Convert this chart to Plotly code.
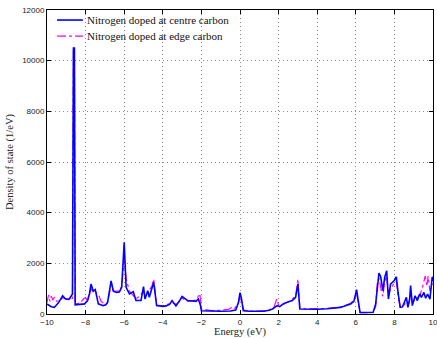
import plotly.graph_objects as go

centre_E = [-10.0, -9.8, -9.62, -9.4, -9.19, -9.05, -8.85, -8.68, -8.63, -8.58, -8.54, -8.3, -8.05, -7.9, -7.8,
            -7.72, -7.6, -7.5, -7.34, -7.1, -6.95, -6.86, -6.68, -6.56, -6.4, -6.25, -6.13, -6.0, -5.9, -5.73,
            -5.53, -5.39, -5.13, -5.0, -4.92, -4.78, -4.7, -4.56, -4.47, -4.32, -4.0, -3.83, -3.65, -3.52, -3.32,
            -3.15, -3.0, -2.71, -2.28, -2.16, -2.05, -2.0, -1.5, -1.0, -0.5, -0.22, -0.08, 0.0, 0.08, 0.17,
            0.5, 1.0, 1.24, 1.5, 1.68, 1.93, 2.06, 2.28, 2.5, 2.71, 2.88, 3.0, 3.1, 3.5, 4.0,
            4.52, 5.2, 5.73, 5.9, 6.04, 6.15, 6.22, 6.5, 6.9, 7.03, 7.1, 7.2, 7.29, 7.4, 7.5,
            7.6, 7.69, 7.8, 7.98, 8.1, 8.19, 8.3, 8.42, 8.53, 8.62, 8.7, 8.79, 8.84, 8.93, 9.07,
            9.19, 9.31, 9.4, 9.53, 9.62, 9.72, 9.84, 9.96, 10.0]
centre_DOS = [395, 300, 260, 450, 720, 600, 590, 790, 10500, 10500, 360, 380, 400, 530, 800,
              1180, 900, 960, 400, 330, 360, 460, 1310, 900, 850, 870, 1050, 2830, 1050, 790,
              880, 530, 530, 1080, 590, 920, 660, 1030, 1250, 330, 300, 320, 380, 530, 320,
              500, 690, 530, 500, 590, 350, 130, 110, 110, 120, 160, 450, 840, 600, 130,
              110, 105, 110, 150, 200, 330, 290, 420, 470, 530, 660, 1180, 200, 190, 190,
              210, 260, 395, 500, 960, 300, 65, 60, 70, 400, 1000, 1620, 1470, 920, 1450,
              1710, 590, 1180, 1310, 1470, 850, 260, 280, 460, 660, 260, 590, 1120, 330, 720,
              530, 790, 660, 850, 620, 790, 590, 1470, 1300]

edge_E = [-10.0, -9.92, -9.85, -9.78, -9.7, -9.62, -9.5, -9.3, -9.19, -9.0, -8.8, -8.68, -8.63, -8.58, -8.54,
          -8.3, -8.1, -8.0, -7.9, -7.72, -7.6, -7.5, -7.3, -7.2, -7.0, -6.86, -6.68, -6.56, -6.25, -6.13,
          -6.0, -5.9, -5.73, -5.53, -5.39, -5.2, -5.0, -4.92, -4.78, -4.56, -4.47, -4.32, -4.0, -3.52, -3.3,
          -3.0, -2.71, -2.28, -2.16, -2.08, -2.0, -1.5, -1.0, -0.6, -0.45, -0.3, -0.1, 0.0, 0.1, 0.2,
          0.5, 1.0, 1.5, 1.75, 1.9, 2.0, 2.3, 2.7, 2.9, 3.0, 3.1, 3.5, 4.5, 5.2, 5.73,
          5.95, 6.04, 6.15, 6.22, 6.9, 7.03, 7.12, 7.22, 7.32, 7.4, 7.5, 7.6, 7.69, 7.8, 7.98,
          8.1, 8.19, 8.3, 8.5, 8.62, 8.75, 8.84, 8.93, 9.07, 9.2, 9.35, 9.5, 9.6, 9.68, 9.75,
          9.84, 9.96, 10.0]
edge_DOS = [450, 750, 500, 700, 550, 650, 500, 550, 650, 580, 560, 620, 10400, 10400, 400,
            420, 600, 650, 500, 1000, 850, 900, 700, 500, 380, 450, 1150, 900, 900, 1100,
            2150, 1400, 900, 700, 600, 700, 900, 700, 850, 1100, 1380, 350, 320, 450, 380,
            620, 500, 550, 700, 800, 200, 130, 150, 180, 250, 200, 400, 720, 400, 150,
            120, 110, 150, 250, 580, 350, 400, 560, 800, 1380, 250, 200, 220, 270, 420,
            600, 820, 250, 50, 60, 300, 1300, 1400, 900, 700, 1300, 1500, 700, 1000, 1200,
            1300, 700, 300, 350, 500, 400, 900, 400, 600, 650, 800, 1200, 1500, 1100, 1500,
            900, 1200, 1100]

series_names = ["Nitrogen doped at centre carbon", "Nitrogen doped at edge carbon"]
series_colors = ["#0000ff", "#ff00ff"]
series_dash = ["solid", "dashdot"]
series_width = [1.6, 1.2]

x_ticks = [-10, -8, -6, -4, -2, 0, 2, 4, 6, 8, 10]
y_ticks = [0, 2000, 4000, 6000, 8000, 10000, 12000]

fig = go.Figure()
fig.add_trace(go.Scatter(x=edge_E, y=edge_DOS, mode="lines", name=series_names[1], showlegend=False,
                         line=dict(color=series_colors[1], width=series_width[1], dash=series_dash[1])))
fig.add_trace(go.Scatter(x=centre_E, y=centre_DOS, mode="lines", name=series_names[0], showlegend=False,
                         line=dict(color=series_colors[0], width=series_width[0], dash=series_dash[0])))

axis_common = dict(showline=True, linecolor="black", linewidth=1, mirror="ticks",
                   ticks="inside", ticklen=4, tickcolor="black", automargin=False,
                   ticklabeloverflow="allow",
                   showgrid=True, gridcolor="#8a8a8a", griddash="1px,3px", gridwidth=1,
                   zeroline=False,
                   tickfont=dict(family="Liberation Sans, Arial, sans-serif", size=8, color="#222"))

title_font = dict(family="Liberation Serif, Times New Roman, serif", size=10.5, color="#222")
fig.update_xaxes(range=[-10, 10], tickvals=x_ticks, ticktext=[str(v).replace("-", "\u2212") for v in x_ticks],
                 title=dict(text="Energy (eV)", font=title_font, standoff=7), **axis_common)
fig.update_yaxes(range=[0, 12000], tickvals=y_ticks, ticktext=[str(v) for v in y_ticks],
                 title=dict(text="Density of state (1/eV)", font=title_font, standoff=6), **axis_common)

# legend box (white background hiding grid) and manual legend entries
fig.add_shape(type="rect", xref="paper", yref="paper", x0=0.003, x1=0.385, y0=0.891, y1=0.997,
              fillcolor="white", line=dict(width=0), layer="between")
legend_rows_y = [0.967, 0.914]
for i in range(2):
    fig.add_shape(type="line", xref="paper", yref="paper", x0=0.026, x1=0.093,
                  y0=legend_rows_y[i], y1=legend_rows_y[i],
                  line=dict(color=series_colors[i], width=series_width[i], dash=series_dash[i]), layer="above")
    fig.add_annotation(xref="paper", yref="paper", x=0.098, y=legend_rows_y[i], xanchor="left", yanchor="middle",
                       text=series_names[i], showarrow=False,
                       font=dict(family="Liberation Serif, Times New Roman, serif", size=11, color="#111"))

fig.update_layout(
    width=437, height=338,
    margin=dict(l=47, r=4, t=10, b=24),
    paper_bgcolor="white", plot_bgcolor="white",
    showlegend=False,
)

fig.write_html("out.html")
